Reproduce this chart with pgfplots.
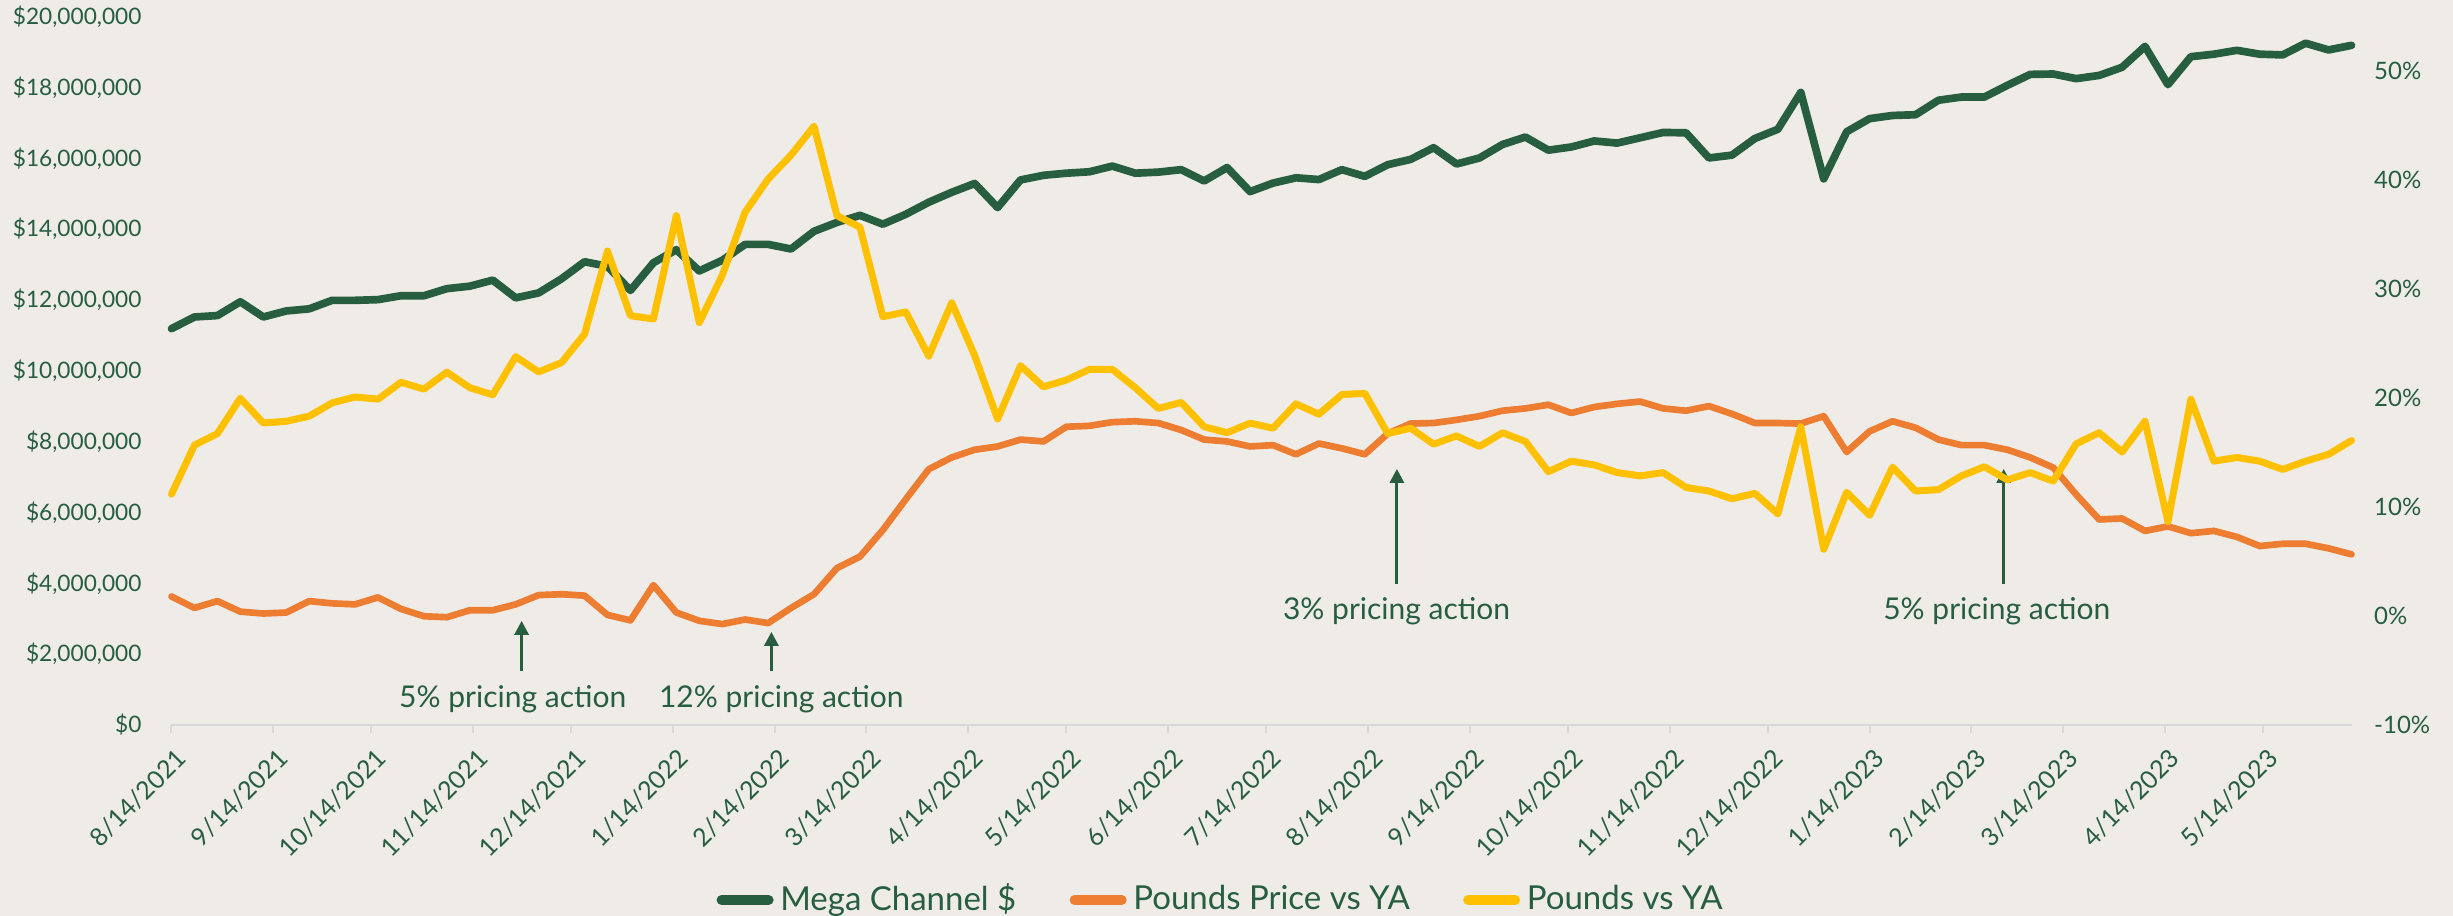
\documentclass[border=0pt]{standalone}
\usepackage{fontspec}
\setmainfont{Lato}
\usepackage{pgfplots}
\pgfplotsset{compat=1.18}
\usetikzlibrary{arrows.meta}
\definecolor{bg}{RGB}{239,235,231}
\definecolor{dgreen}{RGB}{38,94,63}
\definecolor{orng}{RGB}{237,125,49}
\definecolor{gold}{RGB}{255,192,0}
\definecolor{axgray}{RGB}{217,217,217}
\pgfplotsset{
  common/.style={
    at={(51.45pt,57.3pt)}, anchor=south west,
    scale only axis, width=654pt, height=212.5pt,
    xmin=0, xmax=665, clip=false,
    tick label style={text=dgreen, font=\fontsize{7.2}{8}\selectfont},
  }
}
\begin{document}
\begin{tikzpicture}
\fill[bg] (0,0) rectangle (735.9pt,274.8pt);
\begin{axis}[common,
  ymin=0, ymax=20,
  axis x line*=bottom, axis y line*=left,
  y axis line style={draw=none},
  x axis line style={draw=axgray, line width=0.8pt},
  ytick style={draw=none},
  xtick style={draw=axgray, line width=0.6pt},
  tick align=outside, major tick length=2.4pt,
  ytick={0,2,...,20},
  yticklabels={{\$0},{\$2,000,000},{\$4,000,000},{\$6,000,000},{\$8,000,000},{\$10,000,000},{\$12,000,000},{\$14,000,000},{\$16,000,000},{\$18,000,000},{\$20,000,000}},
  yticklabel style={anchor=east, inner sep=0pt, xshift=-6.4pt, font=\fontsize{6.8}{8}\selectfont},
  xtick={0,31,61,92,122,153,184,212,243,273,304,334,365,396,426,457,487,518,549,577,608,638},
  xticklabels={8/14/2021,9/14/2021,10/14/2021,11/14/2021,12/14/2021,1/14/2022,2/14/2022,3/14/2022,4/14/2022,5/14/2022,6/14/2022,7/14/2022,8/14/2022,9/14/2022,10/14/2022,11/14/2022,12/14/2022,1/14/2023,2/14/2023,3/14/2023,4/14/2023,5/14/2023},
  xticklabel style={font=\fontsize{7.5}{8}\selectfont, xshift=1pt, yshift=-4pt, rotate=45, anchor=north east, inner sep=0pt},
]
\addplot[dgreen, line width=2.3pt, line join=round, line cap=round] coordinates {
(0,11.19)(7,11.52)(14,11.56)(21,11.95)(28,11.52)(35,11.69)(42,11.75)(49,11.99)(56,11.99)(63,12.01)(70,12.12)(77,12.12)(84,12.32)(91,12.39)(98,12.56)(105,12.06)(112,12.2)(119,12.6)(126,13.08)(133,12.95)(140,12.27)(147,13.05)(154,13.42)(161,12.82)(168,13.12)(175,13.57)(182,13.57)(189,13.44)(196,13.94)(203,14.19)(210,14.39)(217,14.14)(224,14.42)(231,14.76)(238,15.04)(245,15.29)(252,14.61)(259,15.39)(266,15.52)(273,15.58)(280,15.62)(287,15.78)(294,15.58)(301,15.61)(308,15.68)(315,15.36)(322,15.74)(329,15.06)(336,15.3)(343,15.45)(350,15.4)(357,15.68)(364,15.49)(371,15.82)(378,15.97)(385,16.3)(392,15.84)(399,16.01)(406,16.39)(413,16.6)(420,16.23)(427,16.32)(434,16.49)(441,16.43)(448,16.58)(455,16.73)(462,16.72)(469,16.01)(476,16.09)(483,16.56)(490,16.82)(497,17.86)(504,15.42)(511,16.75)(518,17.12)(525,17.21)(532,17.23)(539,17.64)(546,17.73)(553,17.73)(560,18.06)(567,18.37)(574,18.38)(581,18.25)(588,18.34)(595,18.57)(602,19.16)(609,18.08)(616,18.87)(623,18.94)(630,19.05)(637,18.94)(644,18.92)(651,19.25)(658,19.06)(665,19.19)};
\draw[dgreen, line width=0.9pt, -{Triangle[width=4.2pt,length=4.2pt]}] (axis cs:106.8,1.52) -- (axis cs:106.8,2.94);
\node[dgreen, font=\fontsize{9}{10}\selectfont] at (axis cs:104.1,0.73) {5\% pricing action};
\draw[dgreen, line width=0.9pt, -{Triangle[width=4.2pt,length=4.2pt]}] (axis cs:183,1.52) -- (axis cs:183,2.63);
\node[dgreen, font=\fontsize{9}{10}\selectfont] at (axis cs:186,0.73) {12\% pricing action};
\draw[dgreen, line width=0.9pt, -{Triangle[width=4.2pt,length=4.2pt]}] (axis cs:373.8,3.98) -- (axis cs:373.8,7.23);
\node[dgreen, font=\fontsize{9}{10}\selectfont] at (axis cs:373.7,3.2) {3\% pricing action};
\draw[dgreen, line width=0.9pt, -{Triangle[width=4.2pt,length=4.2pt]}] (axis cs:558.9,3.98) -- (axis cs:558.9,7.23);
\node[dgreen, font=\fontsize{9}{10}\selectfont] at (axis cs:556.8,3.2) {5\% pricing action};
\end{axis}
\begin{axis}[common,
  ymin=-10, ymax=55,
  axis y line*=right, hide x axis,
  y axis line style={draw=none}, ytick style={draw=none},
  ytick={-10,0,10,20,30,40,50},
  yticklabels={-10\%,0\%,10\%,20\%,30\%,40\%,50\%},
  yticklabel style={anchor=west, inner sep=0pt, xshift=6.6pt},
  legend columns=3,
  legend style={at={(0.4823,-0.247)}, anchor=center, draw=none, fill=none,
    font=\fontsize{9.9}{11}\selectfont, text=dgreen,
    /tikz/every even column/.append style={column sep=14pt}},
  legend image code/.code={\draw[#1, line width=3pt, line cap=round] (1.5pt,0pt) -- (15.6pt,0pt);},
]
\addlegendimage{dgreen, line width=2.3pt}
\addlegendentry{Mega Channel \$}
\addplot[orng, line width=2.0pt, line join=round, line cap=round] coordinates {
(0,1.79)(7,0.74)(14,1.37)(21,0.4)(28,0.23)(35,0.32)(42,1.37)(49,1.16)(56,1.07)(63,1.71)(70,0.65)(77,-0.02)(84,-0.11)(91,0.53)(98,0.53)(105,1.07)(112,1.92)(119,2.0)(126,1.87)(133,0.1)(140,-0.4)(147,2.84)(154,0.32)(161,-0.44)(168,-0.74)(175,-0.32)(182,-0.65)(189,0.74)(196,2.0)(203,4.4)(210,5.45)(217,7.89)(224,10.72)(231,13.47)(238,14.55)(245,15.26)(252,15.56)(259,16.19)(266,16.02)(273,17.37)(280,17.45)(287,17.79)(294,17.87)(301,17.71)(308,17.07)(315,16.19)(322,16.02)(329,15.56)(336,15.68)(343,14.84)(350,15.83)(357,15.39)(364,14.84)(371,16.74)(378,17.66)(385,17.71)(392,18.0)(399,18.34)(406,18.84)(413,19.05)(420,19.39)(427,18.63)(434,19.18)(441,19.47)(448,19.68)(455,19.05)(462,18.84)(469,19.26)(476,18.55)(483,17.71)(490,17.71)(497,17.66)(504,18.34)(511,15.05)(518,16.95)(525,17.87)(532,17.28)(539,16.19)(546,15.68)(553,15.68)(560,15.26)(567,14.55)(574,13.62)(581,11.15)(588,8.86)(595,8.95)(602,7.81)(609,8.23)(616,7.6)(623,7.81)(630,7.26)(637,6.42)(644,6.63)(651,6.63)(658,6.21)(665,5.66)};
\addlegendentry{Pounds Price vs YA}
\addplot[gold, line width=2.1pt, line join=round, line cap=round] coordinates {
(0,11.18)(7,15.68)(14,16.74)(21,19.98)(28,17.71)(35,17.87)(42,18.34)(49,19.56)(56,20.1)(63,19.9)(70,21.45)(77,20.82)(84,22.38)(91,20.95)(98,20.3)(105,23.8)(112,22.4)(119,23.26)(126,25.87)(133,33.49)(140,27.56)(147,27.26)(154,36.74)(161,26.93)(168,31.26)(175,37.07)(182,40.1)(189,42.3)(196,44.95)(203,36.74)(210,35.68)(217,27.47)(224,27.9)(231,23.85)(238,28.74)(245,23.9)(252,18.08)(259,22.97)(266,21.03)(273,21.66)(280,22.63)(287,22.63)(294,20.95)(301,19.05)(308,19.6)(315,17.37)(322,16.82)(329,17.7)(336,17.24)(343,19.47)(350,18.52)(357,20.32)(364,20.44)(371,16.74)(378,17.24)(385,15.77)(392,16.53)(399,15.56)(406,16.82)(413,16.02)(420,13.24)(427,14.21)(434,13.87)(441,13.16)(448,12.86)(455,13.16)(462,11.8)(469,11.47)(476,10.76)(483,11.26)(490,9.37)(497,17.37)(504,6.13)(511,11.35)(518,9.24)(525,13.66)(532,11.47)(539,11.6)(546,12.86)(553,13.7)(560,12.5)(567,13.16)(574,12.38)(581,15.8)(588,16.82)(595,15.05)(602,17.87)(609,8.65)(616,19.89)(623,14.21)(630,14.55)(637,14.21)(644,13.45)(651,14.21)(658,14.84)(665,16.1)};
\addlegendentry{Pounds vs YA}
\end{axis}
\pgfresetboundingbox
\useasboundingbox (0,0) rectangle (735.9pt,274.8pt);
\end{tikzpicture}
\end{document}
